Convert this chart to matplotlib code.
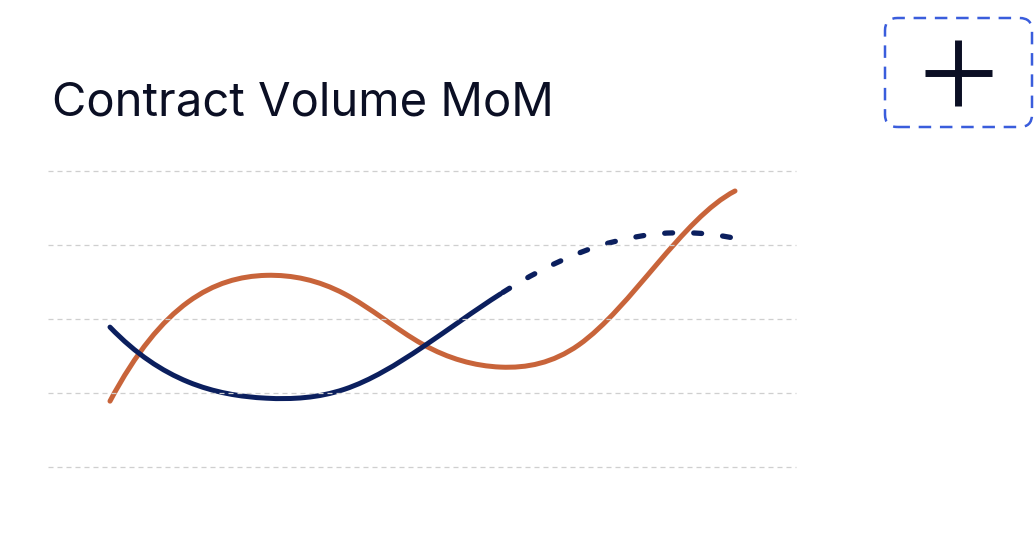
import numpy as np
import matplotlib
matplotlib.use("Agg")
import matplotlib.pyplot as plt
from matplotlib.path import Path
from matplotlib.patches import PathPatch, FancyBboxPatch
from matplotlib.lines import Line2D

# ---- data ----
months = list(range(9))
navy_values = [1.89, 1.15, 0.93, 1.05, 1.62, 2.34, 2.89, 3.15, 3.09]
navy_solid_until = 5          # index where the forecast (dotted) part starts
orange_values = [0.89, 2.23, 2.59, 2.34, 1.66, 1.35, 1.65, 2.74, 3.73]
grid_levels = [0, 1, 2, 3, 4]
title = "Contract Volume MoM"

NAVY = "#0b1f5e"
ORANGE = "#c8643a"
W, H = 1036, 538


def spline_bezier(xs, ys):
    """Bezier vertices of a not-a-knot cubic spline through the points."""
    xs = np.asarray(xs, float)
    ys = np.asarray(ys, float)
    n = len(xs)
    h = np.diff(xs)
    A = np.zeros((n, n))
    r = np.zeros(n)
    # not-a-knot ends: third derivative continuous at x1 and x_{n-2}
    A[0, 0], A[0, 1], A[0, 2] = h[1], -(h[0] + h[1]), h[0]
    A[-1, -3], A[-1, -2], A[-1, -1] = h[-1], -(h[-2] + h[-1]), h[-2]
    for i in range(1, n - 1):
        A[i, i - 1] = h[i - 1]
        A[i, i] = 2 * (h[i - 1] + h[i])
        A[i, i + 1] = h[i]
        r[i] = 6 * ((ys[i + 1] - ys[i]) / h[i] - (ys[i] - ys[i - 1]) / h[i - 1])
    M = np.linalg.solve(A, r)
    verts = [(xs[0], ys[0])]
    for i in range(n - 1):
        d = (ys[i + 1] - ys[i]) / h[i]
        s0 = d - h[i] * (2 * M[i] + M[i + 1]) / 6
        s1 = d + h[i] * (M[i] + 2 * M[i + 1]) / 6
        dx = h[i] / 3
        verts += [(xs[i] + dx, ys[i] + s0 * dx),
                  (xs[i + 1] - dx, ys[i + 1] - s1 * dx),
                  (xs[i + 1], ys[i + 1])]
    return np.array(verts)


def bez_path(verts):
    return Path(verts, [Path.MOVETO] + [Path.CURVE4] * (len(verts) - 1))


fig = plt.figure(figsize=(W / 100, H / 100), dpi=100)
fig.patch.set_facecolor("white")

# axes placed in pixel coords: x 48..796, y 171..467
L, R, T, B = 48, 796, 171, 467
ax = fig.add_axes([L / W, 1 - B / H, (R - L) / W, (B - T) / H])
step = 78.125
ax.set_xlim((L - 110) / step, (R - 110) / step)
ax.set_ylim(0, 4)
ax.axis("off")

for g in grid_levels:
    ln = Line2D([ax.get_xlim()[0], ax.get_xlim()[1]], [g, g], color="#cfcfcf",
                lw=0.9, clip_on=False)
    ln.set_dashes((4, 3.2))
    ax.add_line(ln)

# orange line
ax.add_patch(PathPatch(bez_path(spline_bezier(months, orange_values)), fill=False,
                       edgecolor=ORANGE, lw=3.6, capstyle="round",
                       joinstyle="round", clip_on=False))

# navy line: solid then dotted (forecast)
k = navy_solid_until
verts = spline_bezier(months, navy_values)
ax.add_patch(PathPatch(bez_path(verts[:3 * k + 1]), fill=False, edgecolor=NAVY,
                       lw=3.6, capstyle="round", joinstyle="round", clip_on=False))
ax.add_patch(PathPatch(bez_path(verts[3 * k:]), fill=False, edgecolor=NAVY,
                       lw=3.8, capstyle="round", joinstyle="round", clip_on=False,
                       linestyle=(5.0, (1.5, 4.0))))

# title
fig.text(52 / W, 1 - 115 / H, title, fontsize=34, family="Inter",
         color="#0b0f24", ha="left", va="baseline")

# plus button
box = FancyBboxPatch((885 / W, 1 - 127 / H), (1032 - 885) / W, (127 - 18) / H,
                     boxstyle="round,pad=0,rounding_size=0.012",
                     transform=fig.transFigure, fill=False, edgecolor="#3a5ddc",
                     lw=1.8, linestyle=(0, (5, 3.5)), mutation_aspect=W / H)
fig.add_artist(box)
fig.add_artist(Line2D([925 / W, 992 / W], [1 - 73 / H, 1 - 73 / H],
                      transform=fig.transFigure, color="#0b0f24", lw=5,
                      solid_capstyle="butt"))
fig.add_artist(Line2D([958 / W, 958 / W], [1 - 40 / H, 1 - 106 / H],
                      transform=fig.transFigure, color="#0b0f24", lw=5,
                      solid_capstyle="butt"))

fig.savefig("out.png", dpi=100, facecolor="white")
